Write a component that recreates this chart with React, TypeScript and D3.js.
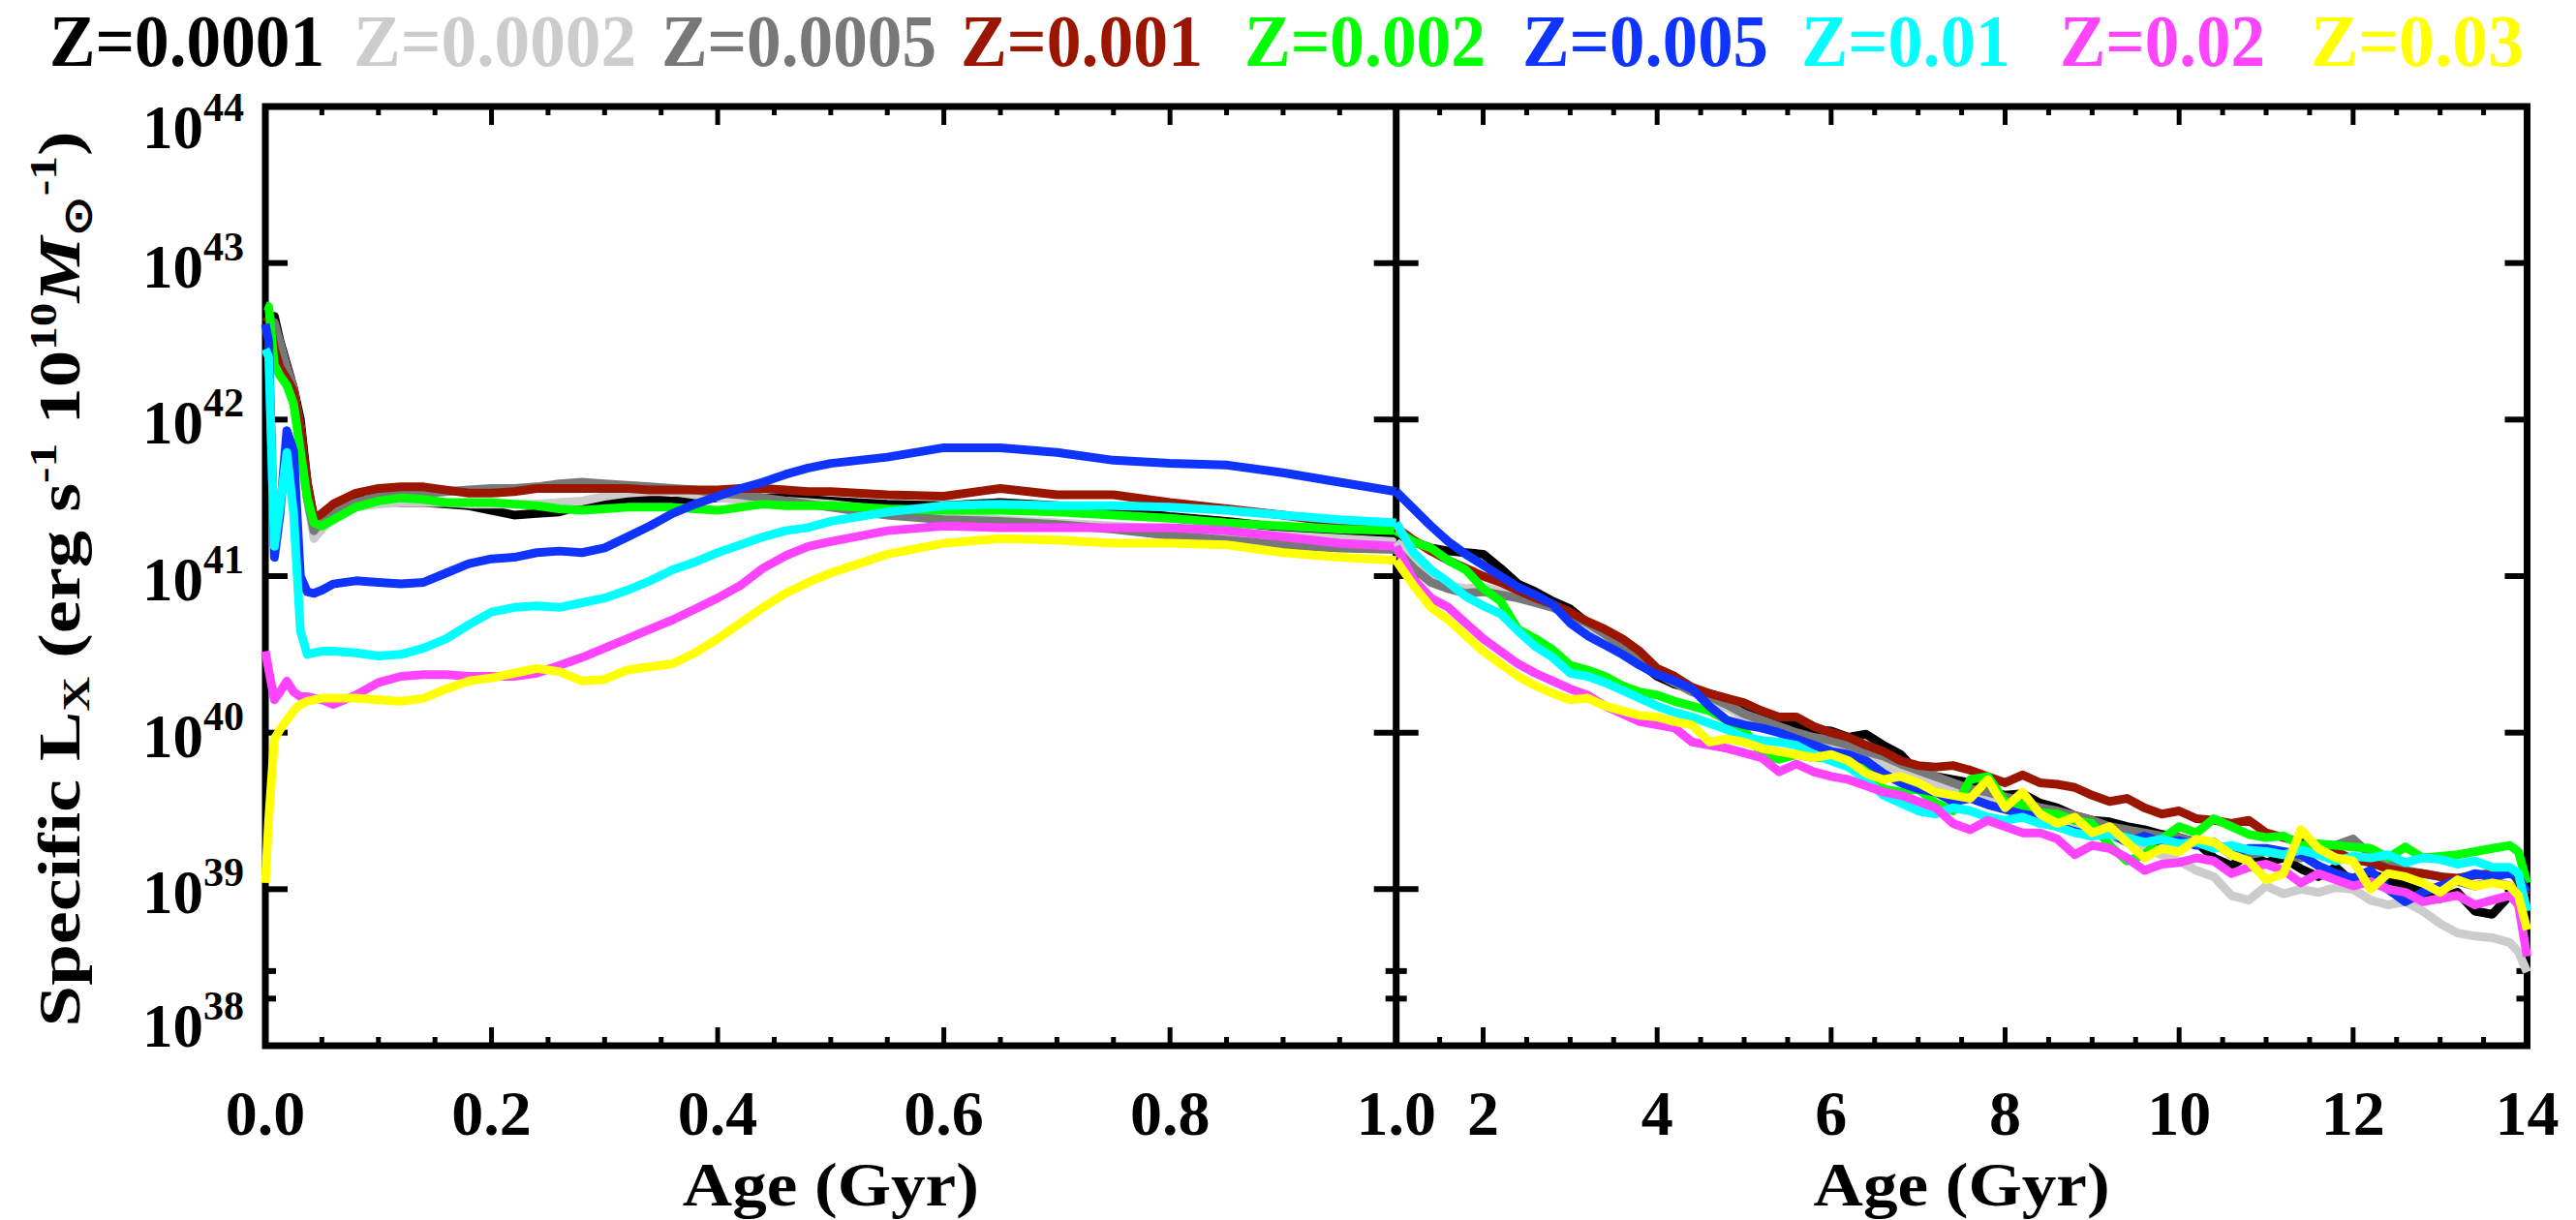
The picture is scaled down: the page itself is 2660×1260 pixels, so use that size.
import React, { useEffect } from "react";
import * as d3 from "d3";

// ---------- DATA (log10 of specific L_X, erg s^-1 per 1e10 Msun) ----------
const metallicityLabels = ["Z=0.0001", "Z=0.0002", "Z=0.0005", "Z=0.001", "Z=0.002", "Z=0.005", "Z=0.01", "Z=0.02", "Z=0.03"];
const seriesColors = ["#000000", "#cccccc", "#787878", "#9b1600", "#00ff00", "#1034ff", "#00ffff", "#ff44ff", "#ffff00"];

const yTickExponents = [44, 43, 42, 41, 40, 39, 38];
const yMinorTicks = [38.301, 38.477];
const leftMajorTicks = [0, 0.2, 0.4, 0.6, 0.8, 1.0];
const leftTickLabels = ["0.0", "0.2", "0.4", "0.6", "0.8", "1.0"];
const rightMajorTicks = [2, 4, 6, 8, 10, 12, 14];
const rightTickLabels = ["2", "4", "6", "8", "10", "12", "14"];

// Age (Gyr), left panel 0-1 Gyr
const ageLeft = [0, 0.003, 0.008, 0.013, 0.019, 0.025, 0.031, 0.037, 0.043, 0.05, 0.06, 0.08, 0.1, 0.12, 0.14, 0.16, 0.18, 0.2, 0.22, 0.24, 0.26, 0.28, 0.3, 0.32, 0.34, 0.36, 0.38, 0.4, 0.42, 0.44, 0.46, 0.48, 0.5, 0.55, 0.6, 0.65, 0.7, 0.75, 0.8, 0.85, 0.9, 0.95, 1.0];

const left_Z0001 = [42.66, 42.66, 42.66, 42.5, 42.35, 42.2, 42.0, 41.6, 41.36, 41.38, 41.44, 41.49, 41.48, 41.47, 41.47, 41.46, 41.45, 41.42, 41.39, 41.4, 41.41, 41.45, 41.48, 41.49, 41.49, 41.48, 41.49, 41.5, 41.51, 41.5, 41.5, 41.49, 41.48, 41.46, 41.45, 41.47, 41.45, 41.42, 41.38, 41.35, 41.31, 41.29, 41.27];
const left_Z0002 = [42.62, 42.62, 42.6, 42.48, 42.32, 42.18, 41.95, 41.5, 41.24, 41.3, 41.38, 41.44, 41.46, 41.47, 41.47, 41.47, 41.46, 41.46, 41.46, 41.46, 41.47, 41.48, 41.51, 41.53, 41.54, 41.54, 41.52, 41.5, 41.49, 41.49, 41.48, 41.47, 41.46, 41.42, 41.39, 41.36, 41.34, 41.32, 41.3, 41.28, 41.26, 41.24, 41.22];
const left_Z0005 = [42.64, 42.64, 42.62, 42.48, 42.33, 42.2, 41.9, 41.5, 41.29, 41.36, 41.42, 41.47, 41.51, 41.52, 41.53, 41.54, 41.55, 41.56, 41.56, 41.57, 41.59, 41.6, 41.59, 41.58, 41.57, 41.56, 41.55, 41.53, 41.52, 41.5, 41.48, 41.46, 41.44, 41.39, 41.36, 41.35, 41.33, 41.3, 41.26, 41.23, 41.2, 41.18, 41.17];
const left_Z001 = [42.66, 42.64, 42.45, 42.33, 42.26, 42.18, 41.95, 41.6, 41.37, 41.4, 41.46, 41.53, 41.56, 41.57, 41.57, 41.55, 41.53, 41.53, 41.54, 41.56, 41.56, 41.56, 41.56, 41.56, 41.55, 41.55, 41.55, 41.55, 41.56, 41.56, 41.55, 41.54, 41.54, 41.52, 41.51, 41.56, 41.52, 41.52, 41.47, 41.43, 41.39, 41.34, 41.31];
const left_Z002 = [42.73, 42.72, 42.35, 42.28, 42.22, 42.1, 41.8, 41.5, 41.34, 41.32, 41.36, 41.44, 41.48, 41.5, 41.49, 41.47, 41.47, 41.47, 41.46, 41.45, 41.43, 41.42, 41.43, 41.44, 41.44, 41.44, 41.43, 41.42, 41.44, 41.46, 41.45, 41.45, 41.45, 41.43, 41.42, 41.42, 41.41, 41.39, 41.37, 41.34, 41.32, 41.3, 41.29];
const left_Z005 = [42.61, 42.5, 41.12, 41.4, 41.93, 41.8, 41.0, 40.9, 40.89, 40.91, 40.95, 40.97, 40.96, 40.95, 40.96, 41.02, 41.08, 41.11, 41.12, 41.15, 41.16, 41.15, 41.18, 41.25, 41.32, 41.4, 41.46, 41.51, 41.56, 41.6, 41.65, 41.69, 41.72, 41.76, 41.82, 41.82, 41.79, 41.74, 41.72, 41.71, 41.66, 41.6, 41.54];
const left_Z01 = [42.45, 42.4, 41.19, 41.45, 41.79, 41.4, 40.65, 40.5, 40.51, 40.52, 40.52, 40.51, 40.49, 40.5, 40.54, 40.6, 40.69, 40.77, 40.8, 40.81, 40.8, 40.83, 40.86, 40.91, 40.97, 41.04, 41.09, 41.15, 41.2, 41.25, 41.29, 41.31, 41.35, 41.41, 41.45, 41.46, 41.45, 41.45, 41.44, 41.42, 41.39, 41.36, 41.34];
const left_Z02 = [40.52, 40.4, 40.21, 40.26, 40.33, 40.26, 40.23, 40.23, 40.22, 40.21, 40.18, 40.24, 40.32, 40.36, 40.37, 40.37, 40.36, 40.36, 40.36, 40.38, 40.43, 40.48, 40.54, 40.6, 40.66, 40.72, 40.79, 40.86, 40.94, 41.05, 41.13, 41.19, 41.22, 41.29, 41.32, 41.31, 41.31, 41.31, 41.31, 41.29, 41.25, 41.21, 41.19];
const left_Z03 = [39.04, 39.45, 39.96, 40.02, 40.08, 40.14, 40.18, 40.2, 40.21, 40.22, 40.22, 40.22, 40.21, 40.2, 40.22, 40.28, 40.33, 40.35, 40.38, 40.41, 40.39, 40.33, 40.34, 40.4, 40.42, 40.44, 40.51, 40.6, 40.7, 40.8, 40.89, 40.96, 41.02, 41.14, 41.21, 41.24, 41.23, 41.21, 41.21, 41.2, 41.15, 41.12, 41.1];

// Age (Gyr), right panel 1-14 Gyr
const ageRight = [1.0, 1.2, 1.4, 1.6, 1.8, 2.0, 2.2, 2.4, 2.6, 2.8, 3.0, 3.2, 3.4, 3.6, 3.8, 4.0, 4.2, 4.4, 4.6, 4.8, 5.0, 5.2, 5.4, 5.6, 5.8, 6.0, 6.2, 6.4, 6.6, 6.8, 7.0, 7.2, 7.4, 7.6, 7.8, 8.0, 8.2, 8.4, 8.6, 8.8, 9.0, 9.2, 9.4, 9.6, 9.8, 10.0, 10.2, 10.4, 10.6, 10.8, 11.0, 11.2, 11.4, 11.6, 11.8, 12.0, 12.2, 12.4, 12.6, 12.8, 13.0, 13.2, 13.4, 13.6, 13.8, 13.9, 14.0];

const right_Z0001 = [41.27, 41.22, 41.18, 41.16, 41.15, 41.14, 41.05, 40.95, 40.9, 40.84, 40.79, 40.7, 40.63, 40.56, 40.45, 40.36, 40.31, 40.28, 40.25, 40.21, 40.13, 40.1, 40.06, 40.05, 40.02, 40.01, 39.97, 39.99, 39.92, 39.86, 39.74, 39.72, 39.7, 39.68, 39.63, 39.6, 39.61, 39.55, 39.52, 39.47, 39.44, 39.43, 39.4, 39.38, 39.35, 39.33, 39.3, 39.2, 39.15, 39.22, 39.17, 39.2, 39.13, 39.08, 39.14, 39.04, 39.1, 39.06, 39.02, 38.98, 38.94, 38.98, 38.86, 38.84, 38.96, 38.98, 38.9];
const right_Z0002 = [41.22, 41.1, 41.0, 40.94, 40.92, 40.93, 40.9, 40.88, 40.84, 40.8, 40.75, 40.68, 40.62, 40.54, 40.46, 40.38, 40.32, 40.27, 40.22, 40.16, 40.1, 40.05, 40.02, 39.98, 39.94, 39.91, 39.88, 39.82, 39.8, 39.75, 39.72, 39.66, 39.62, 39.6, 39.57, 39.55, 39.52, 39.46, 39.44, 39.4, 39.37, 39.34, 39.3, 39.26, 39.22, 39.18, 39.12, 39.08, 38.96, 38.93, 39.02, 38.97, 39.0, 38.98, 39.01, 39.0, 38.93, 38.9, 38.92, 38.86, 38.78, 38.72, 38.7, 38.69, 38.66, 38.6, 38.47];
const right_Z0005 = [41.17, 41.05, 40.96, 40.92, 40.89, 40.9, 40.88, 40.86, 40.83, 40.8, 40.75, 40.7, 40.63, 40.55, 40.46, 40.38, 40.32, 40.26, 40.23, 40.18, 40.12, 40.08, 40.04, 40.0, 39.97, 39.95, 39.92, 39.88, 39.85, 39.8, 39.76, 39.72, 39.68, 39.64, 39.62, 39.59, 39.56, 39.52, 39.5, 39.47, 39.44, 39.4, 39.38, 39.36, 39.34, 39.33, 39.3, 39.28, 39.25, 39.22, 39.24, 39.22, 39.2, 39.24, 39.28, 39.32, 39.22, 39.18, 39.12, 39.1, 39.08, 39.05, 39.02, 39.05, 39.02, 38.98, 38.88];
const right_Z001 = [41.31, 41.23, 41.16, 41.1, 41.05, 41.0, 40.96, 40.91, 40.86, 40.82, 40.77, 40.71, 40.66, 40.6, 40.52, 40.41, 40.36, 40.29, 40.25, 40.22, 40.19, 40.14, 40.1, 40.1, 40.04, 40.0, 39.97, 39.92, 39.88, 39.82, 39.79, 39.78, 39.79, 39.76, 39.72, 39.68, 39.73, 39.68, 39.67, 39.65, 39.6, 39.56, 39.58, 39.52, 39.48, 39.5, 39.45, 39.44, 39.42, 39.44, 39.36, 39.33, 39.3, 39.28, 39.24, 39.19, 39.17, 39.13, 39.11, 39.1, 39.08, 39.07, 39.09, 39.1, 39.13, 39.05, 38.96];
const right_Z002 = [41.29, 41.22, 41.18, 41.1, 41.04, 40.92, 40.84, 40.66, 40.6, 40.53, 40.43, 40.4, 40.36, 40.3, 40.26, 40.24, 40.2, 40.17, 40.14, 40.08, 40.02, 39.86, 39.83, 39.86, 39.84, 39.84, 39.8, 39.76, 39.64, 39.62, 39.64, 39.55, 39.5, 39.7, 39.72, 39.56, 39.54, 39.49, 39.48, 39.44, 39.42, 39.28, 39.18, 39.22, 39.32, 39.4, 39.36, 39.45, 39.4, 39.35, 39.33, 39.34, 39.28, 39.29, 39.28, 39.27, 39.26, 39.2, 39.27, 39.2, 39.21, 39.22, 39.24, 39.26, 39.28, 39.24, 39.04];
const right_Z005 = [41.54, 41.43, 41.32, 41.22, 41.14, 41.07, 41.0, 40.93, 40.88, 40.82, 40.7, 40.62, 40.56, 40.5, 40.43, 40.37, 40.33, 40.28, 40.17, 40.08, 40.05, 40.03, 40.0, 39.96, 39.92, 39.88, 39.86, 39.82, 39.74, 39.68, 39.64, 39.62, 39.56, 39.58, 39.54, 39.51, 39.48, 39.46, 39.4, 39.37, 39.34, 39.36, 39.3, 39.34, 39.3, 39.31, 39.28, 39.3, 39.22, 39.26, 39.26, 39.24, 39.22, 39.15, 39.1, 39.07, 39.12, 39.0, 38.92, 38.98, 39.02, 39.06, 39.1, 39.08, 39.1, 39.08, 38.98];
const right_Z01 = [41.34, 41.15, 41.04, 40.96, 40.87, 40.81, 40.76, 40.65, 40.55, 40.48, 40.38, 40.36, 40.32, 40.27, 40.22, 40.17, 40.13, 40.1, 40.06, 40.02, 39.97, 39.95, 39.94, 39.92, 39.86, 39.82, 39.78, 39.7, 39.6, 39.55, 39.5, 39.48, 39.52, 39.5, 39.46, 39.44, 39.46, 39.42, 39.4, 39.36, 39.34, 39.35, 39.33, 39.3, 39.32, 39.29, 39.3, 39.26, 39.28, 39.25, 39.24, 39.22, 39.25, 39.22, 39.18, 39.21, 39.2, 39.22, 39.17, 39.2, 39.19, 39.16, 39.18, 39.14, 39.14, 39.1, 38.86];
const right_Z02 = [41.19, 40.98, 40.86, 40.8, 40.7, 40.6, 40.52, 40.44, 40.38, 40.33, 40.28, 40.24, 40.17, 40.12, 40.07, 40.05, 40.03, 39.94, 39.92, 39.9, 39.87, 39.84, 39.75, 39.8, 39.75, 39.72, 39.7, 39.66, 39.62, 39.6, 39.56, 39.52, 39.42, 39.38, 39.44, 39.4, 39.36, 39.36, 39.32, 39.22, 39.28, 39.26, 39.2, 39.12, 39.16, 39.17, 39.2, 39.18, 39.1, 39.14, 39.16, 39.12, 39.04, 39.1, 39.06, 39.02, 39.05, 39.0, 38.98, 38.92, 38.94, 38.96, 38.9, 38.93, 38.96, 38.9, 38.57];
const right_Z03 = [41.1, 40.94, 40.8, 40.72, 40.62, 40.52, 40.44, 40.36, 40.3, 40.25, 40.21, 40.22, 40.17, 40.14, 40.11, 40.1, 40.07, 40.05, 39.94, 39.96, 39.94, 39.9, 39.88, 39.86, 39.84, 39.86, 39.82, 39.74, 39.7, 39.72, 39.68, 39.62, 39.6, 39.58, 39.7, 39.52, 39.62, 39.48, 39.42, 39.46, 39.36, 39.4, 39.3, 39.2, 39.26, 39.24, 39.32, 39.3, 39.22, 39.18, 39.06, 39.1, 39.38, 39.26, 39.2, 39.18, 39.0, 39.1, 39.08, 39.04, 38.98, 39.06, 39.02, 39.04, 39.02, 38.96, 38.74];

const leftSeries = [left_Z0001, left_Z0002, left_Z0005, left_Z001, left_Z002, left_Z005, left_Z01, left_Z02, left_Z03];
const rightSeries = [right_Z0001, right_Z0002, right_Z0005, right_Z001, right_Z002, right_Z005, right_Z01, right_Z02, right_Z03];

// ---------- LAYOUT ----------
const W = 2660;
const H = 1260;
const X0 = 274;
const XMID = 1441.7;
const X1 = 2609.5;
const YTOP = 110;
const YBOT = 1080;
const FONT = "'Liberation Serif', 'Times New Roman', serif";

const legendX = [51, 365, 683, 992, 1285, 1572, 1860, 2127, 2386];
const legendW = [284, 292, 284, 250, 249, 254, 216, 212, 220];

export default function App() {
  useEffect(() => {
    document.body.style.margin = "0";
    document.body.style.overflow = "hidden";
  }, []);

  const xL = d3.scaleLinear().domain([0, 1]).range([X0, XMID]);
  const xR = d3.scaleLinear().domain([1, 14]).range([XMID, X1]);
  const y = d3.scaleLinear().domain([38, 44]).range([YBOT, YTOP]);

  const lineL = d3.line<number>().x((_, i) => xL(ageLeft[i])).y((d) => y(d));
  const lineR = d3.line<number>().x((_, i) => xR(ageRight[i])).y((d) => y(d));

  const leftMinor = d3.range(0, 1.0001, 0.05).filter((v) => Math.abs(v * 5 - Math.round(v * 5)) > 1e-6);
  const rightMinor = d3.range(1, 14.0001, 0.5).filter((v) => Math.abs(v / 2 - Math.round(v / 2)) > 1e-6);

  const tickW = 6;
  const majY = 23;
  const minY = 11;
  const majX = 19;
  const minX = 9;

  const yTickEls: any[] = [];
  [...yTickExponents.slice(1, 6)].forEach((e) => {
    const yy = y(e);
    yTickEls.push(<line key={`yl${e}`} x1={X0} x2={X0 + majY} y1={yy} y2={yy} />);
    yTickEls.push(<line key={`ym${e}`} x1={XMID - majY} x2={XMID + majY} y1={yy} y2={yy} />);
    yTickEls.push(<line key={`yr${e}`} x1={X1 - majY} x2={X1} y1={yy} y2={yy} />);
  });
  yMinorTicks.forEach((e) => {
    const yy = y(e);
    yTickEls.push(<line key={`yln${e}`} x1={X0} x2={X0 + minY} y1={yy} y2={yy} />);
    yTickEls.push(<line key={`ymn${e}`} x1={XMID - minY} x2={XMID + minY} y1={yy} y2={yy} />);
    yTickEls.push(<line key={`yrn${e}`} x1={X1 - minY} x2={X1} y1={yy} y2={yy} />);
  });

  const xTickEls: any[] = [];
  const pushX = (xx: number, len: number, k: string) => {
    xTickEls.push(<line key={`b${k}`} x1={xx} x2={xx} y1={YBOT} y2={YBOT - len} />);
    xTickEls.push(<line key={`t${k}`} x1={xx} x2={xx} y1={YTOP} y2={YTOP + len} />);
  };
  leftMajorTicks.forEach((v) => pushX(xL(v), majX, `lM${v}`));
  leftMinor.forEach((v) => pushX(xL(v), minX, `lm${v}`));
  rightMajorTicks.forEach((v) => pushX(xR(v), majX, `rM${v}`));
  rightMinor.forEach((v) => pushX(xR(v), minX, `rm${v}`));

  const yLabelBaseline = (e: number) => {
    if (e === 44) return y(e) + 43;
    if (e === 38) return y(e) + 1;
    return y(e) + 25;
  };

  return (
    <svg width={W} height={H} style={{ position: "absolute", left: 0, top: 0, background: "#fff" }} fontFamily={FONT}>
      <rect x={0} y={0} width={W} height={H} fill="#fff" />
      {/* Legend */}
      {metallicityLabels.map((lab, i) => (
        <text key={lab} x={legendX[i]} y={68} fontSize={76} fontWeight="bold" fill={seriesColors[i]} textLength={legendW[i]} lengthAdjust="spacingAndGlyphs">
          {lab}
        </text>
      ))}

      {/* Frames and ticks */}
      <g stroke="#000" fill="none">
        <rect x={X0} y={YTOP} width={X1 - X0} height={YBOT - YTOP} strokeWidth={7} />
        <line x1={XMID} x2={XMID} y1={YTOP} y2={YBOT} strokeWidth={7} />
        <g strokeWidth={tickW}>{yTickEls}</g>
        <g strokeWidth={5}>{xTickEls}</g>
      </g>

      {/* Lines */}
      <g fill="none" strokeWidth={9} strokeLinejoin="round" strokeLinecap="butt">
        {leftSeries.map((s, i) => (
          <path key={`L${i}`} d={lineL(s) || ""} stroke={seriesColors[i]} />
        ))}
        {rightSeries.map((s, i) => (
          <path key={`R${i}`} d={lineR(s) || ""} stroke={seriesColors[i]} />
        ))}
      </g>

      {/* Y tick labels */}
      {yTickExponents.map((e) => (
        <text key={`yt${e}`} x={252} y={yLabelBaseline(e)} textAnchor="end" fontWeight="bold" fill="#000">
          <tspan fontSize={63}>10</tspan>
          <tspan fontSize={42} dy={-28}>{e}</tspan>
        </text>
      ))}

      {/* X tick labels */}
      {leftMajorTicks.map((v, i) => (
        <text key={`xl${v}`} x={xL(v)} y={1172} textAnchor="middle" fontSize={66} fontWeight="bold">
          {leftTickLabels[i]}
        </text>
      ))}
      {rightMajorTicks.map((v, i) => (
        <text key={`xr${v}`} x={xR(v)} y={1172} textAnchor="middle" fontSize={66} fontWeight="bold">
          {rightTickLabels[i]}
        </text>
      ))}

      {/* X axis titles */}
      <text x={(X0 + XMID) / 2} y={1245} textAnchor="middle" fontSize={64} fontWeight="bold" textLength={306} lengthAdjust="spacingAndGlyphs">
        Age (Gyr)
      </text>
      <text x={(XMID + X1) / 2} y={1245} textAnchor="middle" fontSize={64} fontWeight="bold" textLength={306} lengthAdjust="spacingAndGlyphs">
        Age (Gyr)
      </text>

      {/* Y axis title */}
      <text transform="translate(82,598) rotate(-90)" textAnchor="middle" fontSize={62} fontWeight="bold" textLength={925} lengthAdjust="spacingAndGlyphs">
        <tspan>Specific L</tspan>
        <tspan fontSize={40} dy={10}>X</tspan>
        <tspan dy={-10}> (erg s</tspan>
        <tspan fontSize={40} dy={-24}>-1</tspan>
        <tspan dy={24}> 10</tspan>
        <tspan fontSize={40} dy={-24}>10</tspan>
        <tspan dy={24} fontStyle="italic">M</tspan>
        <tspan fontSize={40} dy={12}>⊙</tspan>
        <tspan fontSize={40} dy={-36}>-1</tspan>
        <tspan dy={24}>)</tspan>
      </text>
    </svg>
  );
}
